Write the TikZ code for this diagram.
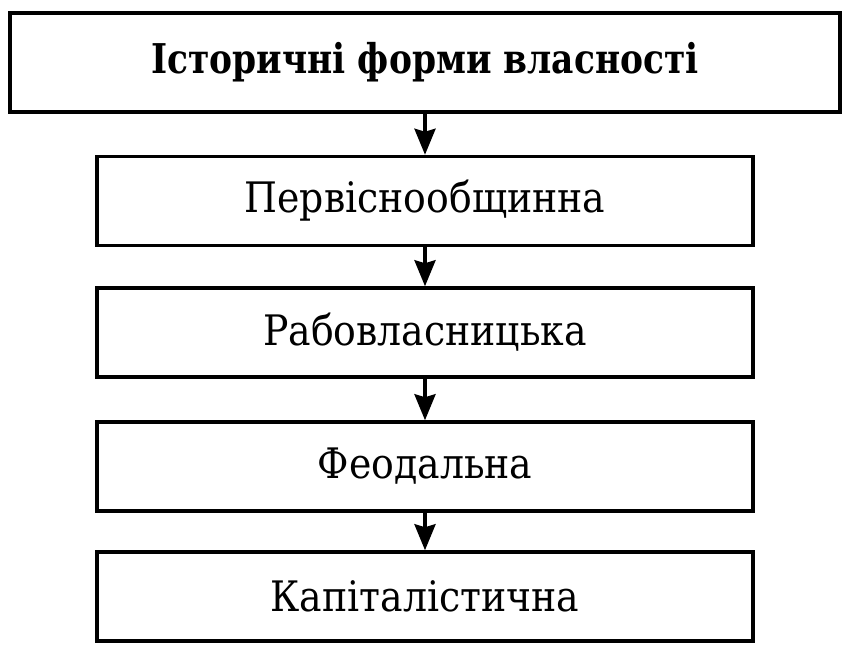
\documentclass[tikz,border=0pt]{standalone}
\usepackage{fontspec}
\setmainfont{DejaVu Serif}
\newfontfamily\boxfont{DejaVu Serif}[FakeStretch=0.9]
\newfontfamily\titlefont{DejaVu Serif}[FakeStretch=0.84]
\usetikzlibrary{arrows.meta}
\tikzset{
  box/.style={draw, line width=3.5pt, minimum width=656pt, minimum height=89pt, inner sep=0pt,
    font=\boxfont\fontsize{42}{50}\selectfont},
  titlebox/.style={box, minimum width=830pt, minimum height=99pt, font=\titlefont\fontsize{41}{50}\selectfont\bfseries},
  link/.style={-{Stealth[length=26pt, width=21pt, inset=3pt]}, line width=3.5pt}
}
\begin{document}
\begin{tikzpicture}[x=1pt, y=-1pt]
        \useasboundingbox (0,0) rectangle (852,652);
        \node[titlebox] (forms) at (425,62.5) {Історичні форми власності};
        \node[box] (primitive) at (425,201) {Первіснообщинна};
        \node[box] (slave) at (425,332.5) {Рабовласницька};
        \node[box] (feudal) at (425,466.5) {Феодальна};
        \node[box] (capital) at (425,596.5) {Капіталістична};
        \draw[link] (forms) -- (primitive);
        \draw[link] (primitive) -- (slave);
        \draw[link] (slave) -- (feudal);
        \draw[link] (feudal) -- (capital);
    \end{tikzpicture}
\end{document}
